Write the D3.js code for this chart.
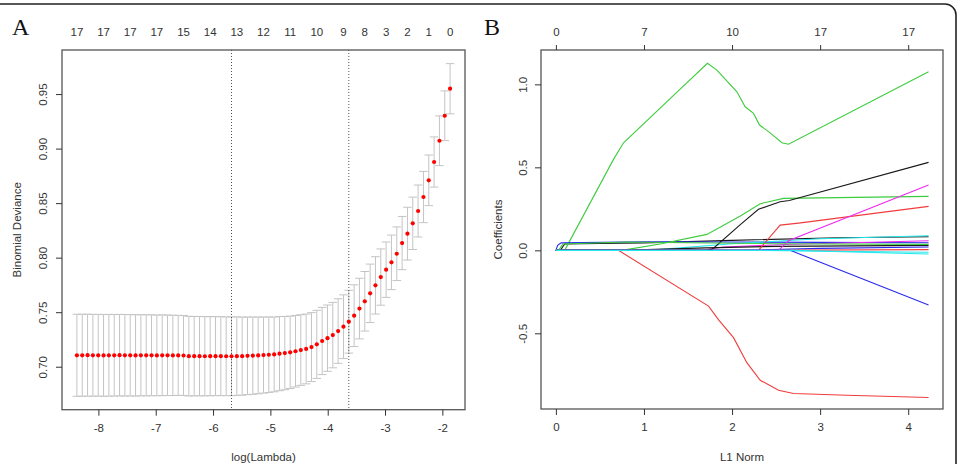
<!DOCTYPE html>
<html>
<head>
<meta charset="utf-8">
<script src="https://cdn.jsdelivr.net/npm/d3@7"></script>
<style>
  body { margin: 0; background: #fff; }
  svg { display: block; }
</style>
</head>
<body>
<svg id="fig"></svg>
<script>
// ---------- panel A : cross-validation curve ----------
var logLambda = [
  -8.375, -8.282, -8.189, -8.096, -8.003, -7.910, -7.817, -7.724, -7.631, -7.538,
  -7.445, -7.352, -7.259, -7.166, -7.073, -6.980, -6.887, -6.794, -6.701, -6.608,
  -6.515, -6.422, -6.329, -6.236, -6.143, -6.050, -5.957, -5.864, -5.771, -5.678,
  -5.585, -5.492, -5.399, -5.306, -5.213, -5.120, -5.027, -4.934, -4.841, -4.748,
  -4.655, -4.562, -4.469, -4.376, -4.283, -4.190, -4.097, -4.004, -3.911, -3.818,
  -3.725, -3.632, -3.539, -3.446, -3.353, -3.260, -3.167, -3.074, -2.981, -2.888,
  -2.795, -2.702, -2.609, -2.516, -2.423, -2.330, -2.237, -2.144, -2.051, -1.958,
  -1.865
];
var cvMean = [
  0.7105, 0.7105, 0.7106, 0.7105, 0.7105, 0.7104, 0.7105, 0.7105, 0.7106, 0.7105,
  0.7105, 0.7104, 0.7105, 0.7105, 0.7105, 0.7104, 0.7105, 0.7105, 0.7104, 0.7104,
  0.7103, 0.7097, 0.7097, 0.7097, 0.7096, 0.7097, 0.7097, 0.7097, 0.7096, 0.7096,
  0.7097, 0.7097, 0.7100, 0.7101, 0.7104, 0.7107, 0.7110, 0.7113, 0.7120, 0.7125,
  0.7132, 0.7142, 0.7153, 0.7163, 0.7180, 0.7205, 0.7236, 0.7262, 0.7290, 0.7327,
  0.7367, 0.7413, 0.7468, 0.7533, 0.7600, 0.7673, 0.7746, 0.7822, 0.7890, 0.7957,
  0.8036, 0.8134, 0.8220, 0.8315, 0.8428, 0.8556, 0.8709, 0.8877, 0.9072, 0.9301,
  0.9549
];
var cvSd = [
  0.0376, 0.0376, 0.0376, 0.0375, 0.0375, 0.0375, 0.0375, 0.0374, 0.0374, 0.0374,
  0.0373, 0.0373, 0.0372, 0.0372, 0.0371, 0.0370, 0.0370, 0.0369, 0.0368, 0.0367,
  0.0366, 0.0365, 0.0364, 0.0364, 0.0363, 0.0363, 0.0362, 0.0362, 0.0361, 0.0361,
  0.0360, 0.0358, 0.0356, 0.0354, 0.0352, 0.0349, 0.0346, 0.0343, 0.0340, 0.0336,
  0.0332, 0.0328, 0.0324, 0.0320, 0.0316, 0.0312, 0.0308, 0.0304, 0.0300, 0.0296,
  0.0292, 0.0288, 0.0283, 0.0278, 0.0273, 0.0268, 0.0263, 0.0258, 0.0254, 0.0250,
  0.0246, 0.0244, 0.0242, 0.0240, 0.0238, 0.0235, 0.0232, 0.0230, 0.0228, 0.0228,
  0.0230
];
var lambdaMin = -5.678;
var lambda1se = -3.632;

// number of non-zero coefficients printed along the top
var nzAt = [-8.375, -7.910, -7.445, -6.980, -6.515, -6.050, -5.585, -5.120,
            -4.655, -4.190, -3.725, -3.353, -2.981, -2.609, -2.237, -1.865];
var nzLabels = ['17', '17', '17', '17', '15', '14', '13', '12',
                '11', '10', '9', '8', '3', '2', '1', '0'];

var lamTicks = [-8, -7, -6, -5, -4, -3, -2];
var devTicks = [0.70, 0.75, 0.80, 0.85, 0.90, 0.95];

// ---------- panel B : coefficient paths ([L1 norm, coefficient]) ----------
var l1Ticks = [0, 1, 2, 3, 4];
var dfLabels = ['0', '7', '10', '17', '17'];
var coefTicks = [-0.5, 0.0, 0.5, 1.0];

var v1  = [[0, 0], [0.05, 0], [0.1, 0.038], [0.5, 0.042], [1.0, 0.045], [2.0, 0.06], [3.2, 0.076], [4.231, 0.082]];
var v2  = [[0, 0], [0.71, 0], [1.733, -0.336], [1.85, -0.42], [2.017, -0.526], [2.168, -0.677],
           [2.32, -0.783], [2.528, -0.843], [2.698, -0.863], [3.304, -0.873], [4.231, -0.887]];
var v3  = [[0, 0], [0.1, 0], [0.654, 0.548], [0.768, 0.648], [1.411, 0.971], [1.721, 1.127], [1.828, 1.086],
           [2.055, 0.955], [2.149, 0.865], [2.244, 0.825], [2.312, 0.755], [2.433, 0.708], [2.566, 0.648],
           [2.641, 0.639], [4.231, 1.076]];
var v4  = [[0, 0], [0.02, 0.03], [0.06, 0.045], [1.0, 0.052], [2.0, 0.05], [3.0, 0.048], [4.231, 0.046]];
var v5  = [[0, 0], [1.05, 0], [2.0, 0.04], [3.0, 0.07], [4.231, 0.088]];
var v6  = [[0, 0], [1.65, 0], [1.9, 0.02], [2.6, 0.035], [4.231, 0.058]];
var v7  = [[0, 0], [0.75, 0], [1.7, 0.015], [2.5, 0.024], [4.231, 0.03]];
var v8  = [[0, 0], [2.3, 0], [2.546, 0.152], [2.755, 0.164], [4.231, 0.265]];
var v9  = [[0, 0], [0.75, 0], [1.2, 0.04], [1.714, 0.096], [2.094, 0.207], [2.32, 0.281], [2.584, 0.313], [4.231, 0.325]];
var v10 = [[0, 0], [2.1, 0], [3.0, 0.012], [4.231, 0.02]];
var v11 = [[0, 0], [2.2, 0], [4.231, -0.012]];
var v12 = [[0, 0], [2.528, 0], [2.64, 0.058], [4.231, 0.394]];
var v13 = [[0, 0], [1.72, 0], [1.78, 0.008], [2.094, 0.155], [2.3, 0.247], [2.546, 0.293], [2.65, 0.30], [4.231, 0.53]];
var v14 = [[0, 0], [2.17, 0], [4.231, 0.004]];
var v15 = [[0, 0], [0.03, 0], [0.08, 0.038], [0.8, 0.05], [1.5, 0.046], [2.5, 0.04], [4.231, 0.036]];
var v16 = [[0, 0], [2.66, 0], [4.231, -0.33]];
var v17 = [[0, 0], [2.7, 0], [4.231, -0.022]];

var paths = [v1, v2, v3, v4, v5, v6, v7, v8, v9, v10, v11, v12, v13, v14, v15, v16, v17];
// R's default matplot palette, cycled
var palette = ['#1a1a1a', '#f03c3c', '#3ccc3c', '#2a2af0', '#22e8ee', '#ee2aee'];

// ---------- drawing ----------
var width = 961;
var height = 464;
var font = '"Liberation Sans", Arial, sans-serif';
var textCol = '#333';
var boxCol = '#555';

var svg = d3.select('#fig')
  .attr('width', width)
  .attr('height', height)
  .attr('font-family', font);

svg.append('rect')
  .attr('width', width)
  .attr('height', height)
  .attr('fill', '#fff');

// outer frame of the figure (top and right edge visible)
svg.append('path')
  .attr('d', 'M-5,4 H945 A11,11 0 0 1 956,15 V470')
  .attr('fill', 'none')
  .attr('stroke', '#222')
  .attr('stroke-width', 1.6);

function styleAxis(g) {
  g.select('.domain').remove();
  g.attr('font-family', font).attr('font-size', 11.5);
  g.selectAll('line').attr('stroke', textCol);
  g.selectAll('text').attr('fill', textCol);
}

function rotateYLabels(g, off) {
  g.selectAll('text')
    .attr('x', null)
    .attr('dy', '0.35em')
    .attr('text-anchor', 'middle')
    .attr('transform', 'translate(' + off + ',0) rotate(-90)');
}

// ===== Panel A =====
var xA = d3.scaleLinear().domain([-8.635, -1.605]).range([62, 465]);
var yA = d3.scaleLinear().domain([0.6606, 0.9904]).range([409.7, 50]);

var gA = svg.append('g');

// error bars
var capHalf = 0.075;
var bars = gA.append('g')
  .attr('stroke', '#c4c4c4')
  .attr('stroke-width', 1);

logLambda.forEach(function(l, i) {
  var up = cvMean[i] + cvSd[i];
  var lo = cvMean[i] - cvSd[i];
  bars.append('line')
    .attr('x1', xA(l)).attr('x2', xA(l))
    .attr('y1', yA(up)).attr('y2', yA(lo));
  bars.append('line')
    .attr('x1', xA(l - capHalf)).attr('x2', xA(l + capHalf))
    .attr('y1', yA(up)).attr('y2', yA(up));
  bars.append('line')
    .attr('x1', xA(l - capHalf)).attr('x2', xA(l + capHalf))
    .attr('y1', yA(lo)).attr('y2', yA(lo));
});

// dotted lines at lambda.min and lambda.1se
[lambdaMin, lambda1se].forEach(function(l) {
  gA.append('line')
    .attr('x1', xA(l)).attr('x2', xA(l))
    .attr('y1', 50).attr('y2', 409.7)
    .attr('stroke', '#555')
    .attr('stroke-width', 1)
    .attr('stroke-dasharray', '1,2');
});

// mean points
gA.append('g')
  .selectAll('circle')
  .data(logLambda)
  .enter().append('circle')
    .attr('cx', function(d) { return xA(d); })
    .attr('cy', function(d, i) { return yA(cvMean[i]); })
    .attr('r', 2.1)
    .attr('fill', '#f00');

// box
gA.append('rect')
  .attr('x', 62).attr('y', 50)
  .attr('width', 403).attr('height', 359.7)
  .attr('fill', 'none')
  .attr('stroke', boxCol)
  .attr('stroke-width', 1.3);

gA.append('g')
  .attr('transform', 'translate(0,409.7)')
  .call(d3.axisBottom(xA).tickValues(lamTicks).tickSize(6).tickPadding(8)
    .tickFormat(function(d) { return String(d); }))
  .call(styleAxis);

gA.append('g')
  .attr('transform', 'translate(62,0)')
  .call(d3.axisLeft(yA).tickValues(devTicks).tickSize(6).tickFormat(d3.format('.2f')))
  .call(styleAxis)
  .call(rotateYLabels, -19);

// top: number of non-zero coefficients
gA.append('g')
  .selectAll('text')
  .data(nzAt)
  .enter().append('text')
    .attr('x', function(d) { return xA(d); })
    .attr('y', 36)
    .attr('text-anchor', 'middle')
    .attr('font-size', 11.5)
    .attr('fill', textCol)
    .text(function(d, i) { return nzLabels[i]; });

gA.append('text')
  .attr('x', 263.5).attr('y', 461)
  .attr('text-anchor', 'middle')
  .attr('font-size', 11.5)
  .attr('fill', textCol)
  .text('log(Lambda)');

gA.append('text')
  .attr('transform', 'translate(17,229.8) rotate(-90)')
  .attr('dy', '0.35em')
  .attr('text-anchor', 'middle')
  .attr('font-size', 11.5)
  .attr('fill', textCol)
  .text('Binomial Deviance');

svg.append('text')
  .attr('x', 12).attr('y', 35)
  .attr('font-family', '"Liberation Serif", "DejaVu Serif", serif')
  .attr('font-size', 24)
  .attr('fill', '#111')
  .text('A');

// ===== Panel B =====
var xB = d3.scaleLinear().domain([-0.169, 4.395]).range([541, 943]);
var yB = d3.scaleLinear().domain([-0.956, 1.207]).range([409, 50]);

var gB = svg.append('g');

var line = d3.line()
  .x(function(d) { return xB(d[0]); })
  .y(function(d) { return yB(d[1]); });

gB.append('g')
  .attr('fill', 'none')
  .attr('stroke-width', 1.1)
  .selectAll('path')
  .data(paths)
  .enter().append('path')
    .attr('d', line)
    .attr('stroke', function(d, i) { return palette[i % palette.length]; });

gB.append('rect')
  .attr('x', 541).attr('y', 50)
  .attr('width', 402).attr('height', 359)
  .attr('fill', 'none')
  .attr('stroke', boxCol)
  .attr('stroke-width', 1.3);

gB.append('g')
  .attr('transform', 'translate(0,409)')
  .call(d3.axisBottom(xB).tickValues(l1Ticks).tickSize(6).tickPadding(8)
    .tickFormat(function(d) { return String(d); }))
  .call(styleAxis);

gB.append('g')
  .attr('transform', 'translate(0,50)')
  .call(d3.axisTop(xB).tickValues(l1Ticks).tickSize(5).tickPadding(9)
    .tickFormat(function(d, i) { return dfLabels[i]; }))
  .call(styleAxis);

gB.append('g')
  .attr('transform', 'translate(541,0)')
  .call(d3.axisLeft(yB).tickValues(coefTicks).tickSize(6)
    .tickFormat(function(d) { return d.toFixed(1); }))
  .call(styleAxis)
  .call(rotateYLabels, -18);

gB.append('text')
  .attr('x', 742).attr('y', 461)
  .attr('text-anchor', 'middle')
  .attr('font-size', 11.5)
  .attr('fill', textCol)
  .text('L1 Norm');

gB.append('text')
  .attr('transform', 'translate(498,229.5) rotate(-90)')
  .attr('dy', '0.35em')
  .attr('text-anchor', 'middle')
  .attr('font-size', 11.5)
  .attr('fill', textCol)
  .text('Coefficients');

svg.append('text')
  .attr('x', 484).attr('y', 35)
  .attr('font-family', '"Liberation Serif", "DejaVu Serif", serif')
  .attr('font-size', 24)
  .attr('fill', '#111')
  .text('B');
</script>
</body>
</html>
